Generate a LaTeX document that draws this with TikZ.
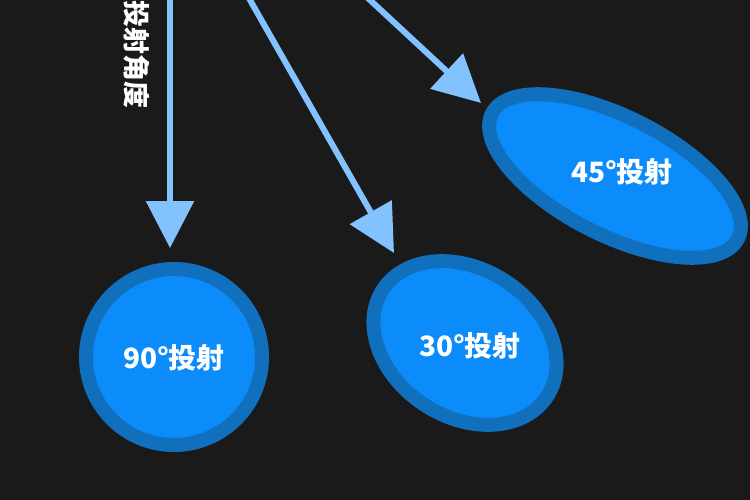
\documentclass[tikz,border=0pt]{standalone}
\usepackage{fontspec}
\newfontfamily\cjk{Noto Sans CJK SC}
\usetikzlibrary{arrows.meta,shapes.geometric}
\definecolor{bg}{HTML}{1A1A1A}
\definecolor{ringblue}{HTML}{1170BE}
\definecolor{fillblue}{HTML}{0C8CFA}
\definecolor{arrowblue}{HTML}{82C3FF}
\tikzset{
  blob/.style={ellipse,draw=ringblue,fill=fillblue,line width=14pt,inner sep=0pt},
  lbl/.style={text=white,font=\cjk\bfseries\fontsize{28}{32}\selectfont,inner sep=0pt},
  arr/.style={draw=arrowblue,line width=6pt,-{Triangle[width=47pt,length=47pt]}}
}
\begin{document}
\begin{tikzpicture}[x=1pt,y=-1pt]
\fill[bg] (0,0) rectangle (750,500);
\useasboundingbox (0,0) rectangle (750,500);
\clip (0,0) rectangle (750,500);
% ellipses
\node[blob,minimum width=176pt,minimum height=176pt] (e90) at (174,357) {};
\node[blob,minimum width=196pt,minimum height=148pt,rotate=-33] (e30) at (465,343) {};
\node[blob,minimum width=276pt,minimum height=118pt,rotate=-27] (e45) at (615,176) {};
% labels
\node[lbl] (l90) at (174,358) {90°投射};
\node[lbl] (l30) at (470,346) {30°投射};
\node[lbl] (l45) at (622,172) {45°投射};
% vertical text
\node[lbl,rotate=-90,anchor=west,font=\cjk\bfseries\fontsize{27}{30}\selectfont] (vt) at (137,0.5) {投射角度};
% arrows
\coordinate (s1) at (170,-10);
\coordinate (t1) at (170,248);
\coordinate (s2) at (244.3,-10);
\coordinate (t2) at (394,253);
\coordinate (s3) at (359.2,-10);
\coordinate (t3) at (481,103);
\draw[arr] (s1) -- (t1);
\draw[arr] (s2) -- (t2);
\draw[arr] (s3) -- (t3);
\end{tikzpicture}
\end{document}
